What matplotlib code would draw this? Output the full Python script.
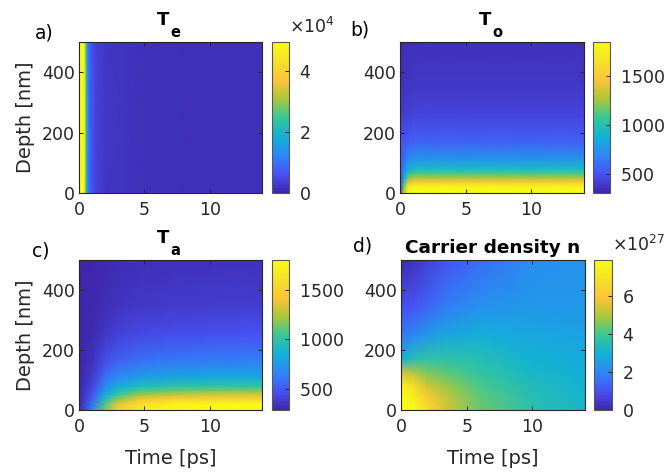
import numpy as np
import matplotlib.pyplot as plt
from matplotlib.colors import LinearSegmentedColormap
from matplotlib.ticker import ScalarFormatter
from matplotlib.transforms import offset_copy

plt.rcParams['font.family'] = ['DejaVu Sans']
plt.rcParams['mathtext.fontset'] = 'dejavusans'

# parula-like colormap
parula = LinearSegmentedColormap.from_list('parula', [
    (0.000, (0.2422, 0.1504, 0.6603)),
    (0.125, (0.2810, 0.3228, 0.9579)),
    (0.250, (0.1786, 0.5289, 0.9682)),
    (0.375, (0.0689, 0.6948, 0.8394)),
    (0.500, (0.2161, 0.7843, 0.5923)),
    (0.625, (0.6720, 0.7793, 0.2227)),
    (0.750, (0.9970, 0.7659, 0.2199)),
    (0.875, (0.9540, 0.8879, 0.1557)),
    (1.000, (0.9769, 0.9839, 0.0805)),
], N=256)

# ---- electron temperature Te [K] (uniform in depth)
te_time = [0, 0.3, 0.45, 0.55, 0.7, 0.9, 1.3, 2, 5, 10, 14]
te_depth = [0, 500]
te_vals = [
    [6.0e4, 5.6e4, 4.4e4, 2.4e4, 1.2e4, 7000, 4000, 2500, 1700, 1500, 1400],
    [6.0e4, 5.6e4, 4.4e4, 2.4e4, 1.2e4, 7000, 4000, 2500, 1700, 1500, 1400],
]

# ---- optical phonon temperature To [K]
to_time = [0, 0.3, 0.6, 1.0, 2, 5, 10, 14]
to_depth = [0, 20, 35, 50, 65, 80, 110, 165, 250, 350, 500]
to_vals = [
    [420, 1300, 1800, 1900, 1900, 1900, 1900, 1900],
    [430, 1200, 1700, 1810, 1810, 1810, 1810, 1810],
    [450, 1000, 1400, 1500, 1500, 1500, 1500, 1500],
    [480, 850, 1180, 1280, 1280, 1280, 1280, 1280],
    [500, 760, 1020, 1100, 1100, 1100, 1100, 1100],
    [520, 680, 880, 940, 940, 940, 940, 940],
    [540, 600, 720, 770, 770, 770, 770, 770],
    [520, 520, 550, 570, 570, 570, 570, 570],
    [420, 420, 440, 450, 450, 450, 450, 450],
    [360, 370, 380, 390, 390, 390, 390, 390],
    [340, 350, 355, 360, 360, 360, 360, 360],
]

# ---- acoustic phonon temperature Ta [K]
ta_time = [0, 1, 2, 3, 4.5, 7, 10, 14]
ta_depth = [0, 20, 35, 50, 65, 80, 110, 165, 250, 350, 500]
ta_vals = [
    [300, 650, 1150, 1450, 1650, 1780, 1840, 1880],
    [300, 600, 1080, 1380, 1580, 1720, 1770, 1800],
    [300, 540, 950, 1200, 1400, 1500, 1540, 1560],
    [300, 490, 850, 1050, 1220, 1300, 1340, 1350],
    [300, 450, 760, 930, 1060, 1120, 1150, 1160],
    [300, 420, 690, 830, 930, 980, 1000, 1010],
    [300, 380, 580, 690, 760, 800, 815, 820],
    [300, 340, 460, 530, 580, 615, 630, 640],
    [300, 310, 370, 410, 440, 460, 470, 480],
    [300, 300, 330, 350, 370, 380, 385, 390],
    [300, 295, 310, 320, 330, 335, 338, 340],
]

# ---- carrier density n [m^-3]
n_time = [0, 1, 2, 3.5, 6, 10, 14]
n_depth = [0, 40, 80, 120, 170, 250, 350, 500]
n_vals = np.array([
    [9.0, 7.8, 6.6, 5.4, 4.4, 3.6, 3.2],
    [8.5, 7.4, 6.2, 5.2, 4.3, 3.5, 3.1],
    [7.6, 6.6, 5.4, 4.8, 4.1, 3.4, 3.0],
    [5.6, 5.2, 4.6, 4.3, 3.8, 3.2, 2.9],
    [3.0, 3.5, 3.7, 3.7, 3.5, 3.0, 2.8],
    [1.7, 2.0, 2.4, 2.7, 2.9, 2.7, 2.6],
    [0.9, 1.0, 1.3, 1.8, 2.2, 2.4, 2.4],
    [0.1, 0.3, 0.6, 1.0, 1.5, 2.1, 2.3],
]) * 1e27

panels = [
    dict(t=te_time, z=te_depth, c=te_vals, vmin=0, vmax=4.97e4,
         cticks=[0, 2e4, 4e4], sub='e', tag='a)'),
    dict(t=to_time, z=to_depth, c=to_vals, vmin=310, vmax=1840,
         cticks=[500, 1000, 1500], sub='o', tag='b)'),
    dict(t=ta_time, z=ta_depth, c=ta_vals, vmin=290, vmax=1800,
         cticks=[500, 1000, 1500], sub='a', tag='c)'),
    dict(t=n_time, z=n_depth, c=n_vals, vmin=0, vmax=7.9e27,
         cticks=[0, 2e27, 4e27, 6e27], sub=None, tag='d)'),
]

W, H = 666, 474
fig = plt.figure(figsize=(W / 100, H / 100), dpi=100)

# pixel boxes: (left, top, right, bottom) for axes, (left, right) for colorbar
boxes = [
    ((79, 42, 262, 193), (272, 289)),
    ((400, 42, 584, 193), (593, 610)),
    ((79, 260, 262, 410), (272, 289)),
    ((401, 260, 585, 410), (594, 612)),
]
tag_pos = [(35, 33), (350, 30), (32, 251), (353, 246)]
dark = '#262626'

for i, (p, (ab, cb)) in enumerate(zip(panels, boxes)):
    l, t, r, b = ab
    ax = fig.add_axes([l / W, 1 - b / H, (r - l) / W, (b - t) / H])
    cax = fig.add_axes([cb[0] / W, 1 - b / H, (cb[1] - cb[0]) / W, (b - t) / H])

    T, Z = np.meshgrid(p['t'], p['z'])
    mesh = ax.pcolormesh(T, Z, np.asarray(p['c'], dtype=float), cmap=parula,
                         vmin=p['vmin'], vmax=p['vmax'], shading='gouraud',
                         rasterized=True)
    ax.set_xlim(0, 14)
    ax.set_ylim(0, 500)
    ax.set_xticks([0, 5, 10])
    ax.set_yticks([0, 200, 400])
    ax.tick_params(direction='in', length=3, width=0.7, labelsize=12.5,
                   colors=dark, top=True, right=True, pad=3)
    ax.tick_params(axis='x', pad=6)
    for s in ax.spines.values():
        s.set_color(dark)
        s.set_linewidth(0.8)

    cbar = fig.colorbar(mesh, cax=cax)
    fmt = ScalarFormatter(useMathText=True)
    fmt.set_powerlimits((-4, 4))
    cbar.formatter = fmt
    cbar.set_ticks(p['cticks'])
    cbar.ax.tick_params(direction='in', length=3, width=0.7, labelsize=12.5,
                        colors=dark, pad=7)
    cbar.ax.yaxis.OFFSETTEXTPAD = 6.5
    off = cbar.ax.yaxis.get_offset_text()
    off.set_fontsize(12.5)
    off.set_color(dark)
    off.set_horizontalalignment('left')
    cbar.outline.set_edgecolor('#555555')
    cbar.outline.set_linewidth(0.8)
    cbar.minorticks_off()

    if i in (0, 2):
        ax.set_ylabel('Depth [nm]', fontsize=14, color=dark, labelpad=5)
    if i in (2, 3):
        ax.set_xlabel('Time [ps]', fontsize=14, color=dark, labelpad=9)

    # titles: bold T with a low-hanging subscript
    if p['sub'] is not None:
        tr_main = offset_copy(ax.transAxes, fig=fig, x=-1, y=17, units='dots')
        tr_sub = offset_copy(ax.transAxes, fig=fig, x=0, y=5, units='dots')
        ax.text(0.5, 1, 'T', transform=tr_main, ha='right', va='baseline',
                fontsize=13, fontweight='bold')
        ax.text(0.5, 1, p['sub'], transform=tr_sub, ha='left', va='baseline',
                fontsize=10.5, fontweight='bold')
    else:
        ax.set_title('Carrier density n', fontsize=13.3, fontweight='bold', pad=5)

    tx, ty = tag_pos[i]
    fig.text(tx / W, 1 - ty / H, p['tag'], fontsize=13.5, ha='left', va='center')

fig.savefig('out.png', dpi=100)
